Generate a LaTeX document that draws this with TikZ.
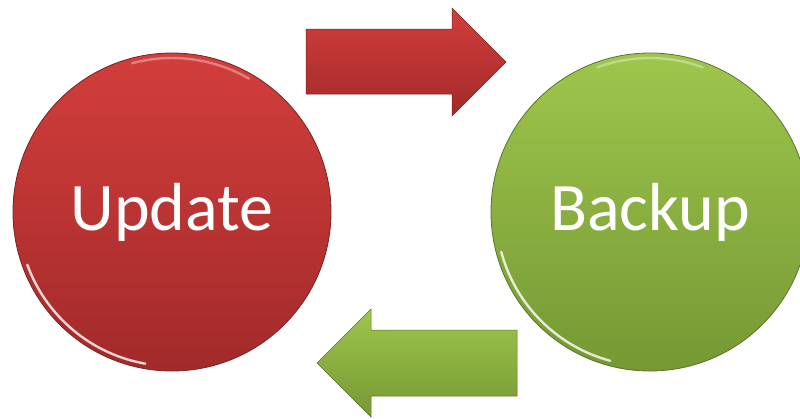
\documentclass[tikz,border=0pt]{standalone}
\usepackage{fontspec}
\setmainfont{Carlito}
\begin{document}
\begin{tikzpicture}[x=1pt,y=-1pt,
  bubble/.style={circle, minimum size=318pt, inner sep=0pt, draw=#1, line width=0.8pt, text=white, font=\fontsize{68}{80}\selectfont},
  gloss/.style={white, line width=2.4pt, opacity=0.8, line cap=round},
  arrowshape/.style={draw=#1, line width=0.5pt}]
\definecolor{rtop}{RGB}{210,62,60}
\definecolor{rbot}{RGB}{162,42,42}
\definecolor{rline}{RGB}{120,35,35}
\definecolor{gtop}{RGB}{158,198,76}
\definecolor{gbot}{RGB}{118,152,52}
\definecolor{gline}{RGB}{90,115,45}
\useasboundingbox (0,0) rectangle (800,418);
\clip (0,0) rectangle (800,418);
% circles
\node[bubble=rline, top color=rtop, bottom color=rbot] (upd) at (172,212) {Update};
\node[bubble=gline, top color=gtop, bottom color=gbot] (bak) at (650,212) {Backup};
% gloss highlights (y axis flipped: angles mirrored)
\draw[gloss] (upd.center) ++(160:154) arc[start angle=160, end angle=100, radius=154];
\draw[gloss, opacity=0.35] (upd.center) ++(255:154) arc[start angle=255, end angle=300, radius=154];
\draw[gloss] (bak.center) ++(165:154) arc[start angle=165, end angle=105, radius=154];
\draw[gloss, opacity=0.35] (bak.center) ++(250:154) arc[start angle=250, end angle=290, radius=154];
% red arrow (Update -> Backup)
\shade[arrowshape=rline, top color=rtop, bottom color=rbot]
  (306,29) -- (452,29) -- (452,8) -- (506,62) -- (452,116) -- (452,94) -- (306,94) -- cycle;
% green arrow (Backup -> Update)
\shade[arrowshape=gline, top color=gtop, bottom color=gbot]
  (517,330) -- (371,330) -- (371,309) -- (317,363) -- (371,417) -- (371,396) -- (517,396) -- cycle;
\end{tikzpicture}
\end{document}
